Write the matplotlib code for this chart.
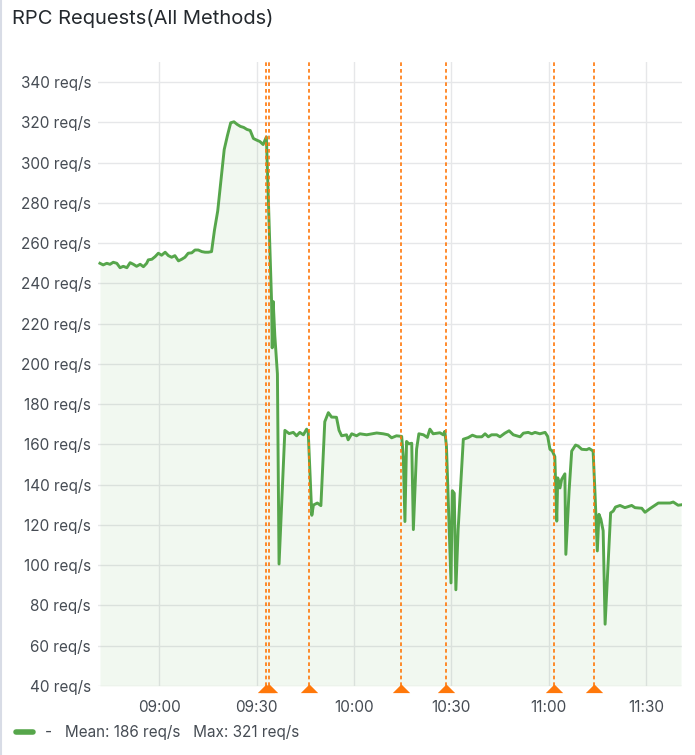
import matplotlib.pyplot as plt
from matplotlib.lines import Line2D
import matplotlib.transforms as mtransforms

plt.rcParams['font.family'] = ['Inter', 'DejaVu Sans']

# Data: minutes after 09:00 and request rate (req/s)
minutes = [-18.3, -17.3, -16.2, -15.2, -14.2, -13.1, -12.1, -11.1, -10.0, -9.0,
           -8.0, -7.0, -5.9, -4.9, -3.9, -3.4, -2.3, -1.3, -0.3, 0.7,
           1.8, 2.8, 3.8, 4.8, 5.9, 6.9, 7.9, 8.9, 10.0, 11.0,
           12.0, 13.1, 14.1, 15.1, 16.1, 17.0, 18.0, 19.0, 20.0, 21.0,
           22.0, 23.0, 24.0, 25.0, 26.0, 27.0, 28.0, 29.0, 30.0, 31.0,
           32.0, 33.0, 34.6, 34.8, 35.1, 35.6, 36.4, 36.9, 38.7, 40.0,
           41.3, 42.3, 43.3, 44.4, 45.4, 45.9, 47.0, 47.5, 48.7, 49.8,
           51.0, 52.1, 53.1, 54.6, 55.4, 56.2, 57.7, 58.2, 59.3, 60.8,
           61.8, 63.9, 67.0, 69.0, 70.5, 71.6, 73.1, 74.7, 75.2, 75.7,
           76.2, 76.9, 77.8, 78.3, 79.3, 80.0, 81.4, 82.6, 83.4, 84.4,
           86.5, 87.5, 88.0, 88.5, 89.9, 90.3, 90.9, 91.4, 92.1, 93.7,
           95.2, 96.5, 97.8, 99.4, 100.4, 101.4, 102.4, 104.0, 105.0, 106.5,
           107.8, 109.1, 111.2, 112.2, 113.7, 114.8, 115.8, 117.3, 118.9, 119.7,
           120.4, 121.1, 121.9, 122.5, 122.8, 123.5, 124.0, 125.0, 125.3, 126.3,
           127.1, 128.3, 129.1, 130.2, 131.7, 132.5, 133.7, 134.3, 135.0, 135.5,
           136.1, 136.8, 137.4, 139.1, 139.9, 140.6, 142.0, 143.5, 145.6, 146.6,
           148.7, 149.7, 151.2, 152.8, 153.8, 157.4, 158.4, 159.9, 160.8]
rate = [250, 249.2, 250, 249.5, 250.5, 250, 247.8, 248.5, 247.8, 250.3,
        249.5, 248.5, 249.5, 248.3, 250, 251.7, 252, 253.3, 255, 254,
        255.5, 253.8, 253, 253.8, 251.2, 252, 253, 255, 255.2, 256.6,
        256.6, 255.8, 255.5, 255.5, 255.8, 266.5, 276, 291, 306.5, 313.5,
        319.8, 320.3, 319, 318, 317.5, 316.5, 316, 312, 311.2, 310.5,
        309, 312.8, 231, 208, 231, 214, 195, 100.6, 167, 165.4,
        166, 164.3, 166, 164.8, 167.6, 166, 124.8, 129.9, 130.9, 129.6,
        171.3, 175.8, 173.6, 173.5, 167, 164.3, 164.8, 162.3, 165.3, 164.3,
        165.3, 164.8, 165.7, 165.3, 164.8, 163.3, 164.3, 164, 154, 121.7,
        161.5, 160.3, 160.6, 117.7, 157.7, 165.3, 164.8, 163.5, 167.6, 165.3,
        165.8, 164.8, 166.5, 159.1, 91.2, 137, 135.8, 87.8, 117.7, 162.6,
        163.4, 164.6, 163.8, 163.8, 165.3, 163.8, 164.8, 164.8, 163.8, 165.6,
        166.8, 164.8, 163.8, 165.6, 166, 165.3, 166, 165.3, 166, 164,
        157.6, 156.8, 154, 121.9, 143.4, 138.4, 142.6, 145.4, 105.4, 136.9,
        156.7, 159.7, 159.2, 157.6, 157.4, 158, 156.7, 135.2, 107.1, 125.3,
        122.8, 117.1, 70.7, 126, 126.9, 128.9, 129.7, 128.6, 129.7, 128.6,
        128.3, 126.3, 128.1, 129.8, 130.9, 130.9, 131.4, 129.8, 130]

# annotation times (minutes after 09:00)
annot_minutes = [32.9, 33.7, 46.0, 74.6, 88.4, 121.7, 134.0]

y_ticks = [40, 60, 80, 100, 120, 140, 160, 180, 200, 220, 240, 260, 280, 300, 320, 340]
x_ticks = [0, 30, 60, 90, 120, 150]
x_labels = ["09:00", "09:30", "10:00", "10:30", "11:00", "11:30"]

green = "#56a64b"
orange = "#ff780a"
text_col = "#464c54"

fig = plt.figure(figsize=(6.95, 7.55), dpi=100)
ax = fig.add_axes([98 / 695, 1 - 686 / 755, 584 / 695, 624 / 755])

ax.fill_between(minutes, rate, 40, color=green, alpha=0.08, lw=0)
ax.plot(minutes, rate, color=green, lw=2.1, solid_joinstyle="round", zorder=3)

for t in annot_minutes:
    ax.axvline(t, color=orange, lw=1.2, ls=(0, (2.2, 1.8)), zorder=4)

# flat triangle markers below the axis
tri = [(-1, -0.3), (1, -0.3), (0, 0.7), (-1, -0.3)]
trans = mtransforms.blended_transform_factory(ax.transData, ax.transAxes)
ax.plot(annot_minutes, [-0.006] * len(annot_minutes), ls="none", marker=tri,
        ms=12.5, color=orange, mew=0, transform=trans, clip_on=False, zorder=5)

ax.set_xlim(-18.9, 161.1)
ax.set_ylim(40, 350)
ax.set_yticks(y_ticks)
ax.set_yticklabels([f"{v} req/s" for v in y_ticks])
ax.set_xticks(x_ticks)
ax.set_xticklabels(x_labels)
ax.grid(True, color="#e6e7e9", lw=1)
ax.set_axisbelow(True)
for s in ax.spines.values():
    s.set_visible(False)
ax.tick_params(axis="both", length=0, labelsize=11, colors=text_col)
ax.tick_params(axis="y", pad=5)
ax.tick_params(axis="x", pad=10)

fig.text(12 / 695, 1 - 19 / 755, "RPC Requests(All Methods)", fontsize=14.5,
         color="#24292e", va="center", ha="left")

# panel border on the left
fig.add_artist(Line2D([1 / 695, 1 / 695], [0, 1], color="#d8dce6", lw=1.5))

handle = Line2D([], [], color=green, lw=4, solid_capstyle="round")
fig.legend([handle], ["-   Mean: 186 req/s   Max: 321 req/s"], loc="center left",
           bbox_to_anchor=(16 / 695, 1 - 733 / 755), frameon=False, fontsize=11,
           handlelength=1.1, handletextpad=0.8, borderpad=0, borderaxespad=0,
           labelcolor=text_col)

fig.savefig("out.png", dpi=100)
